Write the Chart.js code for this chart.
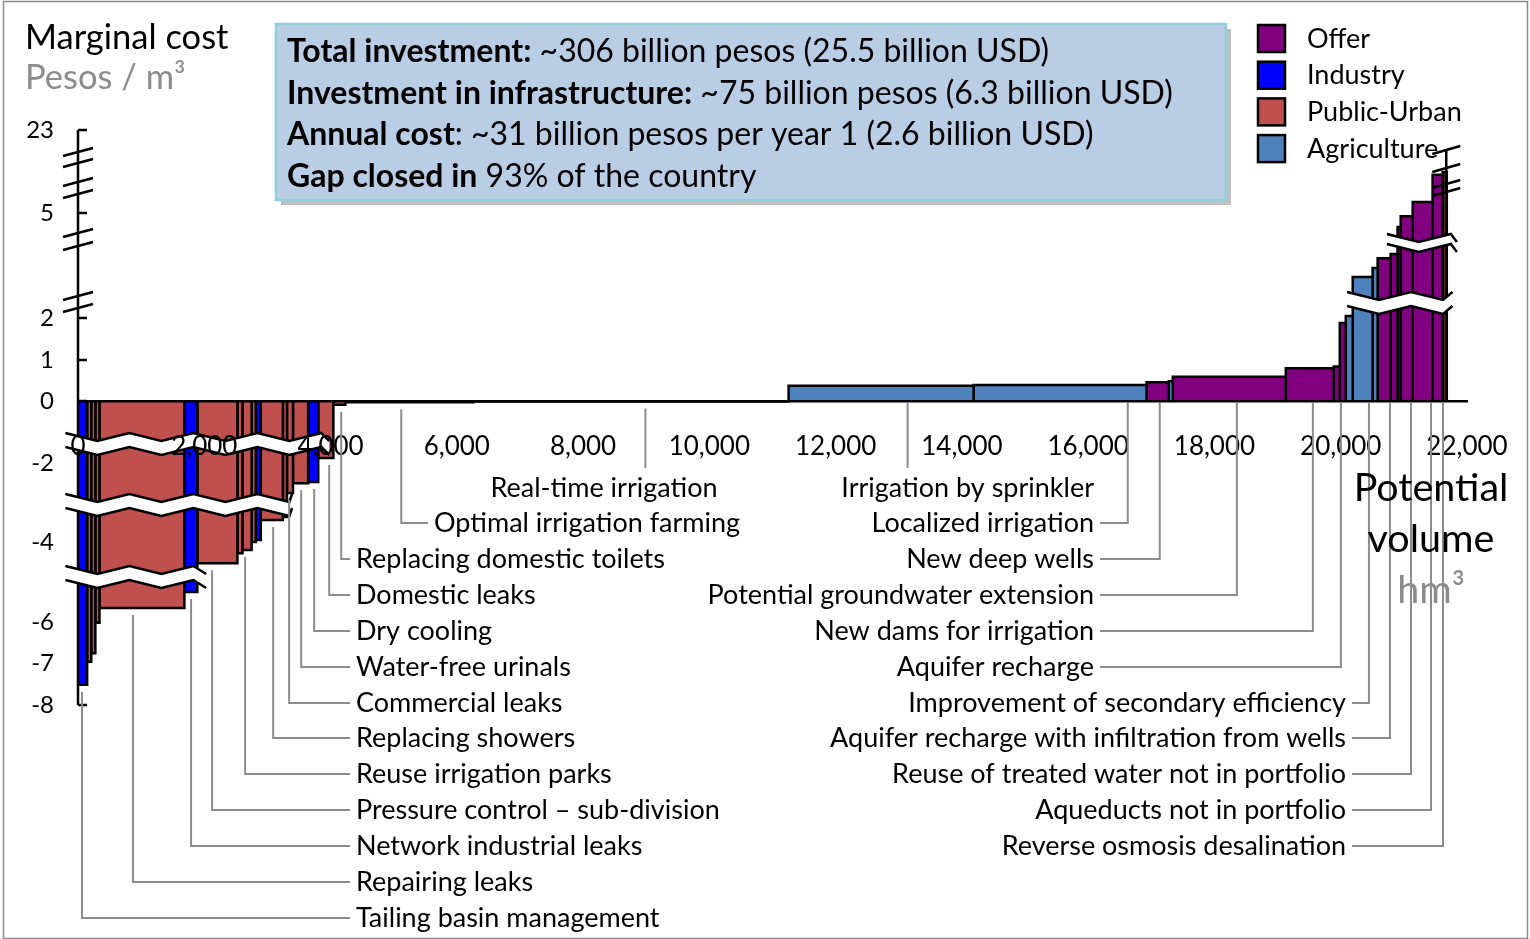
<!DOCTYPE html>
<html>
<head>
<meta charset="utf-8">
<script src="https://cdn.jsdelivr.net/npm/chart.js@4.4.1/dist/chart.umd.min.js"></script>
<style>
  html, body { margin: 0; padding: 0; background: #fff; }
  canvas { display: block; }
</style>
</head>
<body>
<canvas id="chart" width="1530" height="939"></canvas>
<script>
// marginal cost curve, bars in order along the volume axis
const widths = [145, 65, 65, 65, 1345, 205, 635, 80, 145, 65, 80, 350, 65, 95, 240, 160, 240, 190,
                2030, 4990, 2930, 2740, 350, 65, 1790, 760, 95, 95, 110, 315, 80, 205, 110, 50, 190, 315, 160, 65];   // hm3
const costs = [-7.52, -6.97, -6.76, -6.02, -5.65, -5.25, -4.53, -4.28, -4.2, -4.0, -3.95, -3.44, -3.37, -2.76, -2.51, -2.48, -1.84, -0.12,
               -0.04, -0.02, 0.37, 0.39, 0.46, 0.48, 0.59, 0.80, 0.84, 1.88, 2.06, 3.17, 3.43, 3.71, 3.83, 4.6, 4.91, 7.4, 13.3, 13.9];  // pesos / m3
const sectors = ['ind', 'pu', 'pu', 'pu', 'pu', 'ind', 'pu', 'pu', 'pu', 'pu', 'ind', 'pu', 'pu', 'pu', 'pu', 'ind', 'pu', 'pu',
                 'ag', 'ag', 'ag', 'ag', 'off', 'ag', 'off', 'off', 'off', 'off', 'ag', 'ag', 'ag', 'off', 'off', 'off', 'off', 'off', 'off', 'dark'];

const legendNames = ['Offer', 'Industry', 'Public-Urban', 'Agriculture'];
const legendKeys = ['off', 'ind', 'pu', 'ag'];

// broken y axis: tick values and where they sit on the drawn axis
const yTickValues = [23, 5, 2, 1, 0, -2, -4, -6, -7, -8];
const yTickSpots = [271, 188, 83, 41, 0, -62, -141, -221, -262, -304];

// leader labels: text and the volume (hm3) the line points at
const leftNames = ['Replacing domestic toilets', 'Domestic leaks', 'Dry cooling', 'Water-free urinals', 'Commercial leaks',
                   'Replacing showers', 'Reuse irrigation parks', 'Pressure control \u2013 sub-division', 'Network industrial leaks',
                   'Repairing leaks', 'Tailing basin management'];
const leftAt = [4169, 3979, 3741, 3535, 3344, 3091, 2647, 2124, 1791, 872, 63];
const rightNames = ['Localized irrigation', 'New deep wells', 'Potential groundwater extension', 'New dams for irrigation', 'Aquifer recharge'];
const rightAt = [16627, 17134, 18355, 19559, 20003];
const farNames = ['Improvement of secondary efficiency', 'Aquifer recharge with infiltration from wells',
                  'Reuse of treated water not in portfolio', 'Aqueducts not in portfolio', 'Reverse osmosis desalination'];
const farAt = [20447, 20780, 21113, 21430, 21620];
const midNames = ['Real-time irrigation', 'Irrigation by sprinkler', 'Optimal irrigation farming'];
const midAt = [8987, 13140, 5120];

const colors = { off: '#800080', ind: '#0000ff', pu: '#c0504d', ag: '#4f81bd', dark: '#4d2424' };
const FONT = 'Lato, "Open Sans", sans-serif';

function toAxis(v) {
    for (let i = 0; i < yTickValues.length - 1; i++) {
        const a = yTickValues[i], b = yTickValues[i + 1];
        if (v <= a && v >= b) {
            return yTickSpots[i] + (v - a) / (b - a) * (yTickSpots[i + 1] - yTickSpots[i]);
        }
    }
    return v > 0 ? yTickSpots[0] : yTickSpots[yTickSpots.length - 1];
}

const starts = [];
let run = 0;
widths.forEach(w => { starts.push(run); run += w; });

const datasets = widths.map((w, i) => {
    const x0 = starts[i], x1 = x0 + w, y = toAxis(costs[i]);
    return {
        label: sectors[i],
        data: [{x: x0, y: 0}, {x: x0, y: y}, {x: x1, y: y}, {x: x1, y: 0}],
        borderColor: '#000',
        borderWidth: 2.5,
        backgroundColor: colors[sectors[i]],
        fill: 'origin',
        pointRadius: 0,
        tension: 0
    };
});

function barAt(x) {
    for (let i = 0; i < widths.length; i++) {
        if (x >= starts[i] && x < starts[i] + widths[i]) return i;
    }
    return widths.length - 1;
}

function zigzag(xa, xb, yc, period, amp) {
    const pts = [];
    let up = true;
    for (let x = xa; x < xb; x += period / 2) {
        pts.push([x, yc + (up ? -amp : amp)]);
        up = !up;
    }
    pts.push([xb, yc + (up ? -amp : amp)]);
    return pts;
}

function drawBand(ctx, xa, xb, yc, half) {
    const top = zigzag(xa, xb, yc - half, 64, 4);
    const bot = zigzag(xa, xb, yc + half, 64, 4);
    ctx.save();
    ctx.fillStyle = '#fff';
    ctx.beginPath();
    top.forEach((p, i) => i ? ctx.lineTo(p[0], p[1]) : ctx.moveTo(p[0], p[1]));
    bot.slice().reverse().forEach(p => ctx.lineTo(p[0], p[1]));
    ctx.closePath();
    ctx.fill();
    ctx.strokeStyle = '#000';
    ctx.lineWidth = 2.5;
    [top, bot].forEach(line => {
        ctx.beginPath();
        line.forEach((p, i) => i ? ctx.lineTo(p[0], p[1]) : ctx.moveTo(p[0], p[1]));
        ctx.stroke();
    });
    ctx.restore();
}

function slash(ctx, x, y, half) {
    ctx.beginPath();
    ctx.moveTo(x - half, y + 4);
    ctx.lineTo(x + half, y - 4);
    ctx.stroke();
}

const decor = {
    id: 'decor',
    beforeDraw(chart) {
        const ctx = chart.ctx;
        ctx.save();
        ctx.fillStyle = '#fff';
        ctx.fillRect(0, 0, chart.width, chart.height);
        ctx.strokeStyle = '#8c8c8c';
        ctx.lineWidth = 1.5;
        ctx.strokeRect(3.5, 1.5, chart.width - 6, chart.height - 2);
        ctx.restore();
    },
    beforeDatasetsDraw(chart) {
        const ctx = chart.ctx, ys = chart.scales.y;
        const ax = chart.chartArea.left;
        const yTop = ys.getPixelForValue(yTickSpots[0]);
        const yBot = ys.getPixelForValue(yTickSpots[yTickSpots.length - 1]);
        ctx.save();
        ctx.strokeStyle = '#000';
        ctx.lineWidth = 2.5;
        ctx.beginPath();
        ctx.moveTo(ax, yTop);
        ctx.lineTo(ax, yBot);
        ctx.stroke();
        yTickSpots.forEach(s => {
            const y = ys.getPixelForValue(s);
            ctx.beginPath();
            ctx.moveTo(ax, y);
            ctx.lineTo(ax + 9, y);
            ctx.stroke();
        });
        ctx.restore();
    },
    afterDatasetsDraw(chart) {
        const ctx = chart.ctx, xs = chart.scales.x, ys = chart.scales.y;
        const px = v => xs.getPixelForValue(v), py = v => ys.getPixelForValue(v);
        // break bands across the bars
        drawBand(ctx, px(-200), px(3980), py(-43), 7);
        drawBand(ctx, px(-200), px(3390), py(-104), 7);
        drawBand(ctx, px(-200), px(2030), py(-176), 7);
        drawBand(ctx, px(20100), px(21770), py(98), 7);
        drawBand(ctx, px(20730), px(21840), py(158), 5);
        // slashes on the y axis
        ctx.save();
        ctx.strokeStyle = '#000';
        ctx.lineWidth = 2.5;
        const ax = chart.chartArea.left;
        [249, 238, 219, 207, 168, 155, 105, 93].forEach(s => slash(ctx, ax, py(s), 15));
        // small break marks above the tallest bars
        const bx = px(21640);
        ctx.beginPath();
        ctx.moveTo(bx + 2, py(251));
        ctx.lineTo(bx + 2, py(207));
        ctx.stroke();
        [251, 233, 217, 209].forEach(s => slash(ctx, bx + 2, py(s), 14));
        ctx.restore();
    },
    afterDraw(chart) {
        const ctx = chart.ctx, xs = chart.scales.x, ys = chart.scales.y;
        const px = v => xs.getPixelForValue(v), py = v => ys.getPixelForValue(v);
        const zeroY = py(0);
        const rows = [488, 523, 559, 595, 631, 667, 703, 738, 774, 810, 846, 882, 918];
        const startY = x => {
            const c = costs[barAt(x)];
            return c < 0 ? py(toAxis(c)) + 7 : zeroY + 2;
        };

        ctx.save();
        ctx.font = '27px ' + FONT;
        ctx.textBaseline = 'middle';
        ctx.strokeStyle = '#8c8c8c';
        ctx.lineWidth = 2;
        ctx.fillStyle = '#000';

        const leader = (x, y, xEnd) => {
            ctx.beginPath();
            ctx.moveTo(px(x), startY(x));
            ctx.lineTo(px(x), y);
            if (xEnd !== null) ctx.lineTo(xEnd, y);
            ctx.stroke();
        };

        ctx.textAlign = 'left';
        leftNames.forEach((t, i) => {
            const y = rows[i + 2];
            leader(leftAt[i], y, 350);
            ctx.fillText(t, 356, y);
        });
        // optimal irrigation farming
        leader(midAt[2], rows[1], 428);
        ctx.fillText(midNames[2], 434, rows[1]);
        // real time irrigation, sprinkler
        leader(midAt[0], rows[0] - 20, null);
        ctx.textAlign = 'center';
        ctx.fillText(midNames[0], 604, rows[0]);
        leader(midAt[1], rows[0] - 20, null);
        ctx.textAlign = 'right';
        ctx.fillText(midNames[1], 1094, rows[0]);

        rightNames.forEach((t, i) => {
            const y = rows[i + 1];
            leader(rightAt[i], y, 1100);
            ctx.fillText(t, 1094, y);
        });
        farNames.forEach((t, i) => {
            const y = rows[i + 6];
            leader(farAt[i], y, 1352);
            ctx.fillText(t, 1346, y);
        });
        ctx.restore();

        // axis titles
        ctx.save();
        ctx.textBaseline = 'middle';
        ctx.textAlign = 'left';
        ctx.font = '34.5px ' + FONT;
        ctx.fillStyle = '#000';
        ctx.fillText('Marginal cost', 25, 38);
        ctx.fillStyle = '#8c8c8c';
        ctx.fillText('Pesos / m\u00b3', 25, 78);
        ctx.textAlign = 'center';
        ctx.font = '39.5px ' + FONT;
        ctx.fillStyle = '#000';
        ctx.fillText('Potential', 1431, 488);
        ctx.fillText('volume', 1431, 539);
        ctx.fillStyle = '#8c8c8c';
        ctx.fillText('hm\u00b3', 1431, 590);
        ctx.restore();

        // summary box
        ctx.save();
        ctx.fillStyle = '#bfbfbf';
        ctx.fillRect(281, 29, 950, 176);
        ctx.fillStyle = '#b9cde5';
        ctx.fillRect(276, 24, 950, 176);
        ctx.strokeStyle = '#93cddd';
        ctx.lineWidth = 2.5;
        ctx.strokeRect(276, 24, 950, 176);
        const lines = [
            ['Total investment:', ' ~306 billion pesos (25.5 billion USD)'],
            ['Investment in infrastructure:', ' ~75 billion pesos (6.3 billion USD)'],
            ['Annual cost', ': ~31 billion pesos per year 1 (2.6 billion USD)'],
            ['Gap closed in', ' 93% of the country']
        ];
        ctx.textBaseline = 'middle';
        ctx.textAlign = 'left';
        ctx.fillStyle = '#000';
        lines.forEach((l, i) => {
            const y = 52 + i * 41.5;
            ctx.font = 'bold 32px ' + FONT;
            ctx.fillText(l[0], 287, y);
            const w = ctx.measureText(l[0]).width;
            ctx.font = '32px ' + FONT;
            ctx.fillText(l[1], 287 + w, y);
        });
        ctx.restore();

        // legend
        ctx.save();
        ctx.textBaseline = 'middle';
        ctx.textAlign = 'left';
        ctx.font = '27px ' + FONT;
        legendNames.forEach((n, i) => {
            const y = 25 + i * 36.7;
            ctx.fillStyle = colors[legendKeys[i]];
            ctx.fillRect(1258, y, 27, 27);
            ctx.strokeStyle = '#000';
            ctx.lineWidth = 2.5;
            ctx.strokeRect(1258, y, 27, 27);
            ctx.fillStyle = '#000';
            ctx.fillText(n, 1307, y + 14);
        });
        ctx.restore();
    }
};

new Chart(document.getElementById('chart'), {
    type: 'line',
    data: { datasets: datasets },
    options: {
        responsive: false,
        animation: false,
        devicePixelRatio: 1,
        layout: { padding: { top: 130, bottom: 234, right: 63, left: 0 } },
        plugins: { legend: { display: false }, tooltip: { enabled: false } },
        scales: {
            x: {
                type: 'linear',
                position: { y: 0 },
                min: 0,
                max: 22000,
                afterFit: s => { s.paddingLeft = 0; s.paddingRight = 0; },
                grid: { display: false, drawTicks: false },
                border: { display: true, color: '#000', width: 2.5, z: 1 },
                ticks: {
                    z: 1,
                    stepSize: 2000,
                    autoSkip: false,
                    maxRotation: 0,
                    padding: 30,
                    color: '#000',
                    font: { family: FONT, size: 26 },
                    callback: v => v.toLocaleString('en-US')
                }
            },
            y: {
                type: 'linear',
                min: yTickSpots[yTickSpots.length - 1],
                max: yTickSpots[0],
                afterFit: s => { s.width = 78; },
                afterBuildTicks: s => { s.ticks = yTickSpots.map(v => ({ value: v })); },
                grid: { display: false, drawTicks: false },
                border: { display: false },
                ticks: {
                    autoSkip: false,
                    padding: 24,
                    color: '#000',
                    font: { family: FONT, size: 24 },
                    callback: v => String(yTickValues[yTickSpots.indexOf(v)])
                }
            }
        }
    },
    plugins: [decor]
});
</script>
</body>
</html>
